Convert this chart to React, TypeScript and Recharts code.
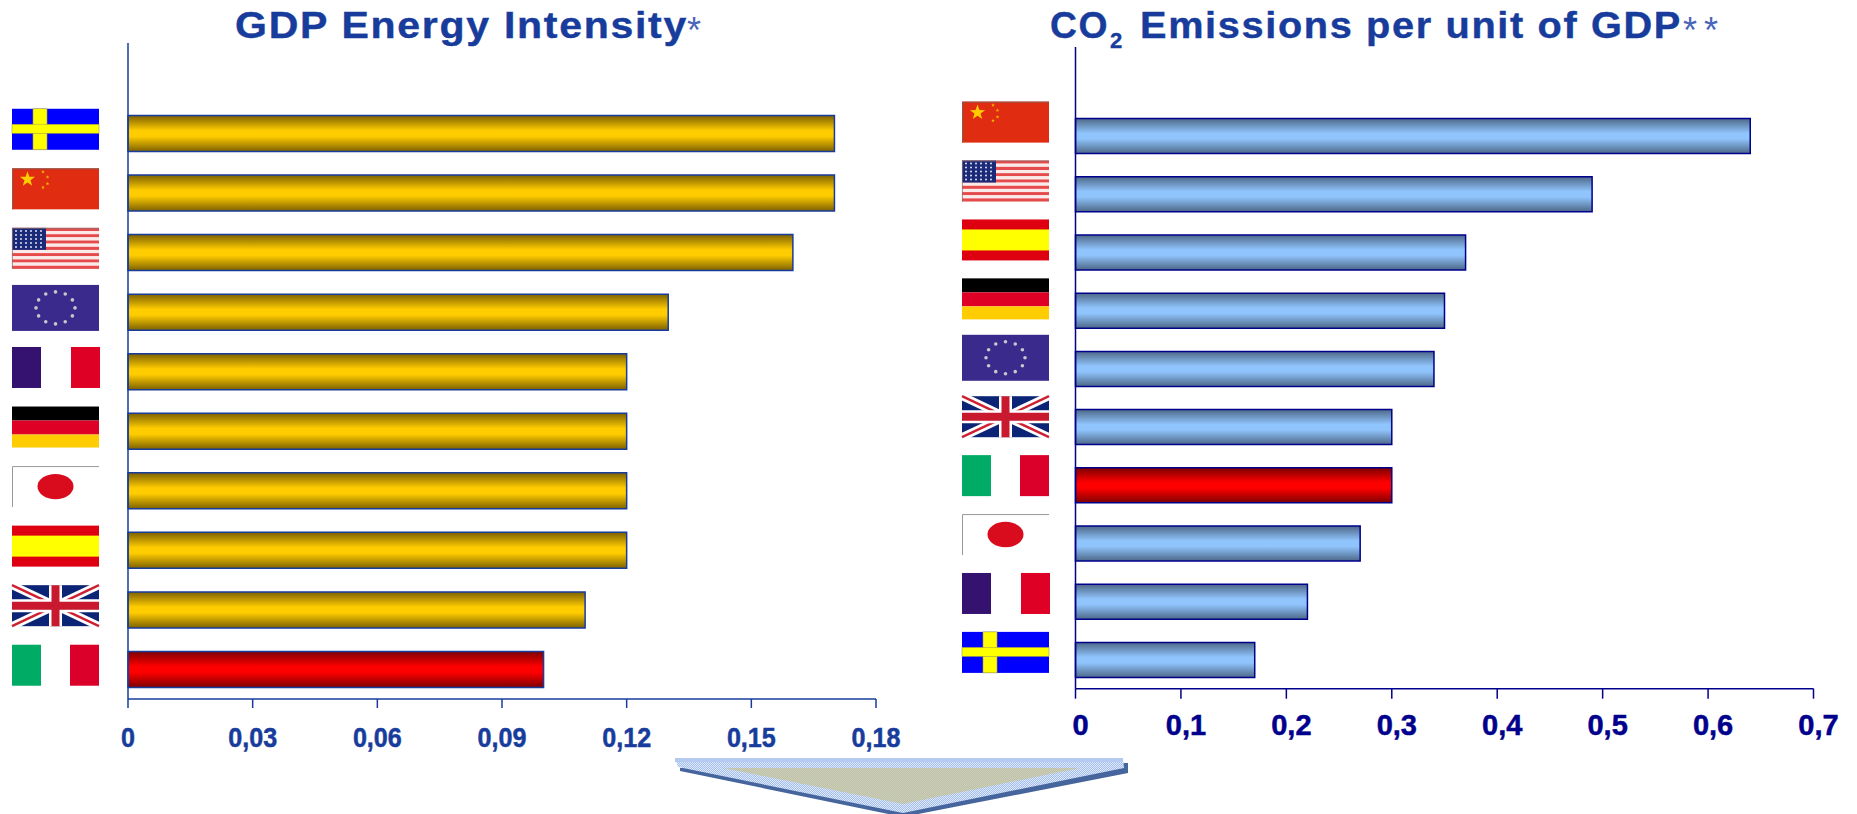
import React from "react";
import { BarChart, Bar, XAxis, YAxis, Cell } from "recharts";

// GDP energy intensity by country
const intensityCountries = ["Sweden", "China", "USA", "EU", "France", "Germany", "Japan", "Spain", "UK", "Italy"];
const intensityValues = [0.17, 0.17, 0.16, 0.13, 0.12, 0.12, 0.12, 0.12, 0.11, 0.1];
const intensityTicks = [0, 0.03, 0.06, 0.09, 0.12, 0.15, 0.18];

// CO2 emissions per unit of GDP by country
const emissionCountries = ["China", "USA", "Spain", "Germany", "EU", "UK", "Italy", "Japan", "France", "Sweden"];
const emissionValues = [0.64, 0.49, 0.37, 0.35, 0.34, 0.3, 0.3, 0.27, 0.22, 0.17];
const emissionTicks = [0, 0.1, 0.2, 0.3, 0.4, 0.5, 0.6, 0.7];

const HIGHLIGHT = "Italy";
const FONT = '"Liberation Sans", Arial, sans-serif';
const LEFT_BLUE = "#173c9c";
const RIGHT_BLUE = "#00008c";

const toRows = (names: string[], values: number[]) => names.map((country, i) => ({ country, value: values[i] }));
const decimalComma = (v: number) => String(v).replace(".", ",");

const star = (cx: number, cy: number, r: number) => {
  const pts: string[] = [];
  for (let i = 0; i < 10; i++) {
    const rad = i % 2 === 0 ? r : r * 0.4;
    const a = -Math.PI / 2 + (i * Math.PI) / 5;
    pts.push(`${cx + rad * Math.cos(a)},${cy + rad * Math.sin(a)}`);
  }
  return pts.join(" ");
};

// Flags are drawn in a local 87x41 box.
function Flag({ name }: { name: string }) {
  const W = 87;
  const H = 41;
  switch (name) {
    case "Sweden":
      return (
        <g>
          <rect width={W} height={H} fill="#0000ff" />
          <rect x={21} width={14} height={H} fill="#ffff00" stroke="#a09a50" strokeWidth={0.6} />
          <rect y={15.5} width={W} height={9} fill="#ffff00" stroke="#a09a50" strokeWidth={0.6} />
          <rect x={21.4} y={16} width={13.2} height={8} fill="#ffff00" />
        </g>
      );
    case "China":
      return (
        <g>
          <rect width={W} height={H} fill="#e02c10" />
          <path d="M0.5 41V0.5H87" fill="none" stroke="#8a5a50" strokeWidth={1} />
          <polygon points={star(15.5, 11, 8)} fill="#ffcc00" />
          <polygon points={star(31, 3.5, 2)} fill="#f6b400" />
          <polygon points={star(35.5, 8.7, 2)} fill="#f6b400" />
          <polygon points={star(35.5, 15.3, 2)} fill="#f6b400" />
          <polygon points={star(31, 19, 2)} fill="#f6b400" />
        </g>
      );
    case "USA": {
      const stripes = Array.from({ length: 13 }, (_, i) => i);
      const rows = [3, 7, 11, 15, 19];
      const cols = [4, 9, 14, 19, 24, 29];
      return (
        <g>
          {stripes.map((i) => (
            <rect key={i} y={(i * H) / 13} width={W} height={H / 13} fill={i % 2 === 0 ? "#e64b4b" : "#fbeaea"} />
          ))}
          <rect width={34} height={22} fill="#1b2a78" />
          {rows.map((y) => cols.map((x) => <circle key={`${x}-${y}`} cx={x} cy={y} r={1} fill="#dfe3f2" />))}
          <path d="M0.4 41V0.4H87" fill="none" stroke="#8f7070" strokeWidth={0.8} />
        </g>
      );
    }
    case "EU": {
      const dots = Array.from({ length: 12 }, (_, i) => (i * Math.PI) / 6);
      return (
        <g>
          <rect y={-2.5} width={W} height={46} fill="#3a2a8c" />
          {dots.map((a, i) => (
            <circle key={i} cx={43.5 + 19.5 * Math.cos(a)} cy={20.5 + 16 * Math.sin(a)} r={1.8} fill="#c9c6cc" />
          ))}
        </g>
      );
    }
    case "France":
      return (
        <g>
          <rect width={W} height={H} fill="#ffffff" />
          <rect width={29} height={H} fill="#361270" />
          <rect x={59} width={29} height={H} fill="#de0025" />
        </g>
      );
    case "Germany":
      return (
        <g>
          <rect width={W} height={14} fill="#000000" />
          <rect y={14} width={W} height={14} fill="#de0025" />
          <rect y={28} width={W} height={13} fill="#ffcc00" />
        </g>
      );
    case "Japan":
      return (
        <g>
          <rect width={W} height={H} fill="#ffffff" />
          <path d="M0.5 41V0.5H87" fill="none" stroke="#999999" strokeWidth={1} />
          <ellipse cx={43.5} cy={20.5} rx={18} ry={12.7} fill="#d90c1e" />
        </g>
      );
    case "Spain":
      return (
        <g>
          <rect width={W} height={H} fill="#de0010" />
          <rect y={10} width={W} height={21} fill="#ffff00" />
        </g>
      );
    case "UK":
      return (
        <g>
          <rect width={W} height={H} fill="#0b2475" />
          <path d="M0 0L87 41M87 0L0 41" stroke="#ffffff" strokeWidth={8} />
          <path d="M0 0L87 41M87 0L0 41" stroke="#cf1f33" strokeWidth={2.4} />
          <path d="M43.5 0V41M0 20.5H87" stroke="#ffffff" strokeWidth={13} />
          <path d="M43.5 0V41M0 20.5H87" stroke="#c8192e" strokeWidth={8} />
        </g>
      );
    default:
      return (
        <g>
          <rect width={W} height={H} fill="#ffffff" />
          <rect width={29} height={H} fill="#00ab66" />
          <rect x={58} width={29} height={H} fill="#da002a" />
        </g>
      );
  }
}

// Category tick that swaps the label for the country's flag.
const flagTick = (left: number, lift: number, drift: number) => (props: any) => {
  const { y, payload, index } = props;
  return (
    <g transform={`translate(${left},${y - 20.5 + lift + drift * index})`}>
      <Flag name={payload.value} />
    </g>
  );
};

// Value tick in a tall, slightly condensed bold face.
const valueTick = (fontSize: number, squeeze: number, fill: string, dx: number, drop: number) => (props: any) => {
  const { x, y, payload } = props;
  return (
    <g transform={`translate(${x + dx},${y + drop}) scale(${squeeze},1)`}>
      <text
        textAnchor="middle"
        fontFamily={FONT}
        fontWeight={700}
        fontSize={fontSize}
        fill={fill}
        stroke={fill}
        strokeWidth={0.5}
      >
        {decimalComma(payload.value)}
      </text>
    </g>
  );
};

const gradient = (id: string, edge: string, mid: string) => (
  <linearGradient id={id} x1="0" y1="0" x2="0" y2="1">
    <stop offset="0%" stopColor={edge} />
    <stop offset="42%" stopColor={mid} />
    <stop offset="58%" stopColor={mid} />
    <stop offset="100%" stopColor={edge} />
  </linearGradient>
);

function Titles() {
  const title = {
    fontFamily: FONT,
    fontWeight: 700,
    fontSize: 36,
    fill: "#173c9c",
    stroke: "#173c9c",
    strokeWidth: 0.4,
    lengthAdjust: "spacingAndGlyphs",
    letterSpacing: 1.5,
  };
  const mark = { fontFamily: FONT, fontWeight: 400, fontSize: 36, fill: "#4a66b8" };
  return (
    <>
      <text x={235} y={38} textLength={453} {...title}>GDP Energy Intensity</text>
      <text x={687} y={43} {...mark}>*</text>
      <text x={1050} y={38} textLength={59} {...title}>CO</text>
      <text x={1110} y={48} {...title} fontSize={22}>2</text>
      <text x={1140} y={38} textLength={542} {...title}>Emissions per unit of GDP</text>
      <text x={1683} y={43} textLength={35} {...mark}>**</text>
    </>
  );
}

// Down-pointing arrow straddling the two panels.
function Arrow() {
  return (
    <>
      <defs>
        <pattern id="ditherBlue" width={2} height={2} patternUnits="userSpaceOnUse">
          <rect width={2} height={2} fill="#9fbdf0" />
          <rect width={1} height={1} fill="#e2eafa" />
          <rect x={1} y={1} width={1} height={1} fill="#e2eafa" />
        </pattern>
        <pattern id="ditherGold" width={2} height={2} patternUnits="userSpaceOnUse">
          <rect width={2} height={2} fill="#a9bfe6" />
          <rect width={1} height={1} fill="#e0d07a" />
          <rect x={1} y={1} width={1} height={1} fill="#e0d07a" />
        </pattern>
      </defs>
      <polygon points="680,768 1128,763 1128,773 908,816 898,816 680,771" fill="#46659c" />
      <polygon points="675,758 1123,758 1124,768 903,813 678,767" fill="url(#ditherBlue)" />
      <rect x={675} y={758} width={448} height={4} fill="#b4caf0" />
      <polygon points="723,768 1080,768 903,804" fill="url(#ditherGold)" />
    </>
  );
}

export default function App() {
  return (
    <div style={{ position: "absolute", left: 0, top: 0, width: 1857, height: 814, background: "#ffffff", overflow: "hidden" }}>
      <svg width={1857} height={814} style={{ position: "absolute", left: 0, top: 0 }}>
        <defs>
          {gradient("goldBar", "#7d6100", "#ffcc00")}
          {gradient("blueBar", "#4d6888", "#90c4fc")}
          {gradient("redBar", "#7d0000", "#ff0000")}
        </defs>
        <Titles />
        <Arrow />
      </svg>

      <div style={{ position: "absolute", left: 0, top: 0 }}>
        <BarChart
          layout="vertical"
          width={930}
          height={814}
          data={toRows(intensityCountries, intensityValues)}
          margin={{ top: 43, right: 54, bottom: 0, left: 0 }}
          style={{ background: "transparent" }}
        >
          <XAxis
            type="number"
            domain={[0, 0.18]}
            ticks={intensityTicks}
            interval={0}
            height={115}
            tickSize={9}
            tickMargin={0}
            tick={valueTick(27, 0.93, LEFT_BLUE, 0, 39)}
            stroke={LEFT_BLUE}
            strokeWidth={1.5}
          />
          <YAxis
            type="category"
            dataKey="country"
            width={128}
            padding={{ top: 60.5, bottom: 0 }}
            interval={0}
            tickLine={false}
            tick={flagTick(12, -4, 0)}
            stroke={LEFT_BLUE}
            strokeWidth={1.5}
          />
          <Bar dataKey="value" barSize={36} stroke={LEFT_BLUE} strokeWidth={1.5} isAnimationActive={false}>
            {intensityCountries.map((c) => (
              <Cell key={c} fill={c === HIGHLIGHT ? "url(#redBar)" : "url(#goldBar)"} />
            ))}
          </Bar>
        </BarChart>
      </div>

      <div style={{ position: "absolute", left: 930, top: 0 }}>
        <BarChart
          layout="vertical"
          width={927}
          height={814}
          data={toRows(emissionCountries, emissionValues)}
          margin={{ top: 47, right: 43.5, bottom: 0, left: 0 }}
          style={{ background: "transparent" }}
        >
          <XAxis
            type="number"
            domain={[0, 0.7]}
            ticks={emissionTicks}
            interval={0}
            height={125.3}
            tickSize={10}
            tickMargin={0}
            tick={valueTick(29, 1, RIGHT_BLUE, 5, 36)}
            stroke={RIGHT_BLUE}
            strokeWidth={1.5}
          />
          <YAxis
            type="category"
            dataKey="country"
            width={145.5}
            padding={{ top: 59.5, bottom: 0 }}
            interval={0}
            tickLine={false}
            tick={flagTick(32, -13.5, 0.7)}
            stroke={RIGHT_BLUE}
            strokeWidth={1.5}
          />
          <Bar dataKey="value" barSize={35} stroke={RIGHT_BLUE} strokeWidth={1.5} isAnimationActive={false}>
            {emissionCountries.map((c) => (
              <Cell key={c} fill={c === HIGHLIGHT ? "url(#redBar)" : "url(#blueBar)"} />
            ))}
          </Bar>
        </BarChart>
      </div>
    </div>
  );
}
